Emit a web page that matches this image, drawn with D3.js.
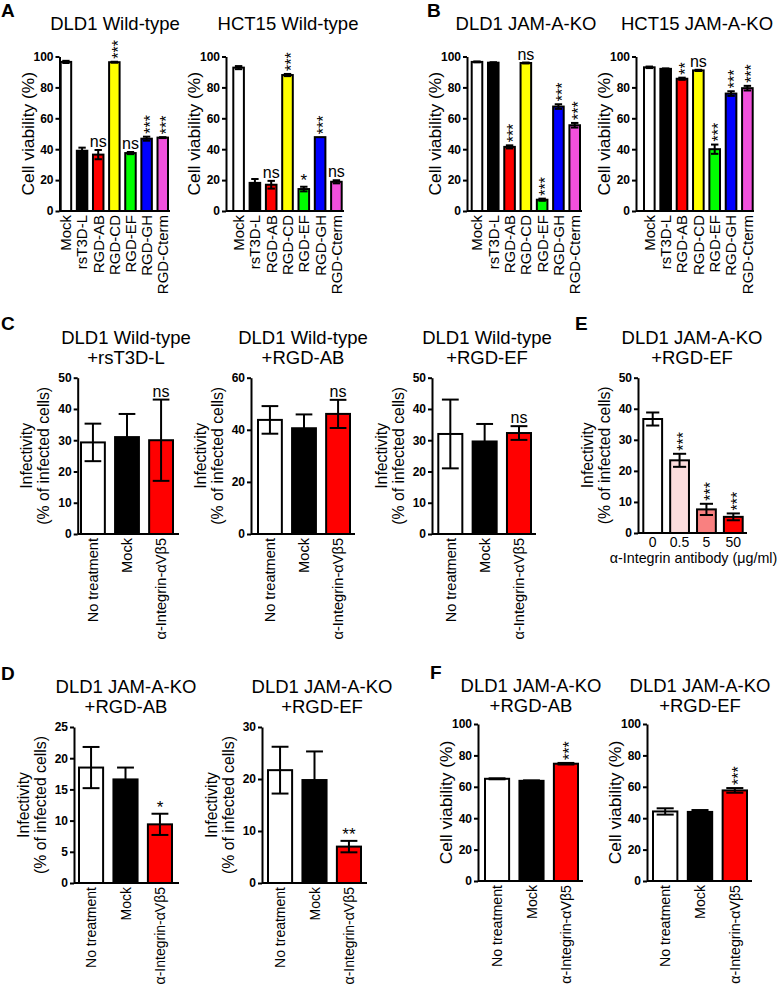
<!DOCTYPE html>
<html>
<head>
<meta charset="utf-8">
<script src="https://cdn.jsdelivr.net/npm/d3@7"></script>
<style>
  html, body { margin: 0; padding: 0; background: #fff; }
  svg { display: block; font-family: "Liberation Sans", Arial, sans-serif; }
  .sig { opacity: 0.999; }
</style>
</head>
<body>
<svg id="fig" width="777" height="988"></svg>
<script>
// ---------------- DATA ----------------
const viabilityCats = ["Mock", "rsT3D-L", "RGD-AB", "RGD-CD", "RGD-EF", "RGD-GH", "RGD-Cterm"];
const viabilityColors = ["#ffffff", "#000000", "#ff0000", "#ffff00", "#00ff00", "#0000ff", "#f250dc"];

const dld1WtValues = [96.5, 39, 36.5, 96.3, 37.5, 46.8, 47.5];
const dld1WtErrors = [0.7, 2, 3, 0.3, 0.7, 1.3, 0.3];
const dld1WtSig = ["", "", "ns", "***", "ns", "***", "***"];

const hct15WtValues = [92.8, 18.2, 17, 88, 14.2, 47.8, 18.9];
const hct15WtErrors = [1, 2.5, 2.5, 0.7, 1.5, 0, 1];
const hct15WtSig = ["", "", "ns", "***", "*", "***", "ns"];

const dld1KoValues = [96.5, 96, 41.5, 95.8, 7.3, 67.6, 55.5];
const dld1KoErrors = [0.3, 0.3, 1, 0.3, 0.7, 1.5, 1.5];
const dld1KoSig = ["", "", "***", "ns", "***", "***", "***"];

const hct15KoValues = [93, 92, 85.6, 91, 40, 76, 79.5];
const hct15KoErrors = [0.5, 0.3, 0.7, 0.4, 3, 1.5, 1.5];
const hct15KoSig = ["", "", "**", "ns", "***", "***", "***"];

const treatCats = ["No treatment", "Mock", "α-Integrin-αVβ5"];
const treatColors = ["#ffffff", "#000000", "#ff0000"];

const cT3dValues = [29.3, 31, 30];
const cT3dErrors = [6, 7.4, 13];
const cT3dSig = ["", "", "ns"];

const cAbValues = [43.8, 40.6, 46.1];
const cAbErrors = [5.3, 5.3, 5.4];
const cAbSig = ["", "", "ns"];

const cEfValues = [32, 29.6, 32.3];
const cEfErrors = [11, 5.6, 2.2];
const cEfSig = ["", "", "ns"];

const dAbValues = [18.5, 16.6, 9.4];
const dAbErrors = [3.3, 1.9, 1.7];
const dAbSig = ["", "", "*"];

const dEfValues = [21.7, 19.8, 7.0];
const dEfErrors = [4.5, 5.5, 1.1];
const dEfSig = ["", "", "**"];

const doseCats = ["0", "0.5", "5", "50"];
const doseColors = ["#ffffff", "#fcdcdc", "#f98080", "#ff0000"];
const doseValues = [36.7, 23.4, 7.6, 5.2];
const doseErrors = [2.1, 2.1, 1.8, 1.1];
const doseSig = ["", "***", "***", "***"];

const fAbValues = [65.1, 63.8, 74.7];
const fAbErrors = [0.3, 0.3, 0.5];
const fAbSig = ["", "", "***"];

const fEfValues = [44.3, 44, 57.7];
const fEfErrors = [2, 1.2, 1.5];
const fEfSig = ["", "", "***"];

const ticksViab = [0, 20, 40, 60, 80, 100];
const ticks50 = [0, 10, 20, 30, 40, 50];
const ticks60 = [0, 20, 40, 60];
const ticks25 = [0, 5, 10, 15, 20, 25];
const ticks30 = [0, 10, 20, 30];

const viabLabel = ["Cell viability (%)"];
const infLabel = ["Infectivity", "(% of infected cells)"];
const doseAxisLabel = "α-Integrin antibody (μg/ml)";

// ---------------- LAYOUT ----------------
const panels = [
  {cats: viabilityCats, colors: viabilityColors, values: dld1WtValues, errors: dld1WtErrors, sig: dld1WtSig,
   ticks: ticksViab, title: ["DLD1 Wild-type"], ylab: viabLabel,
   ax: 59.5, ae: 170, r0: 60.7, r1: 168, pi: 0.35, yTop: 56.5, y0: 211, tx: 115, ty: 30, rot: true, xfs: 15},
  {cats: viabilityCats, colors: viabilityColors, values: hct15WtValues, errors: hct15WtErrors, sig: hct15WtSig,
   ticks: ticksViab, title: ["HCT15 Wild-type"], ylab: viabLabel,
   ax: 226, ae: 344, r0: 233.3, r1: 341.7, pi: 0.35, yTop: 56.5, y0: 211, tx: 288, ty: 30, rot: true, xfs: 15},
  {cats: viabilityCats, colors: viabilityColors, values: dld1KoValues, errors: dld1KoErrors, sig: dld1KoSig,
   ticks: ticksViab, title: ["DLD1 JAM-A-KO"], ylab: viabLabel,
   ax: 467, ae: 582, r0: 471.7, r1: 580, pi: 0.35, yTop: 56.5, y0: 211, tx: 526, ty: 30, rot: true, xfs: 15},
  {cats: viabilityCats, colors: viabilityColors, values: hct15KoValues, errors: hct15KoErrors, sig: hct15KoSig,
   ticks: ticksViab, title: ["HCT15 JAM-A-KO"], ylab: viabLabel,
   ax: 636, ae: 754, r0: 644, r1: 752.7, pi: 0.35, yTop: 56.5, y0: 211, tx: 697, ty: 30, rot: true, xfs: 15},

  {cats: treatCats, colors: treatColors, values: cT3dValues, errors: cT3dErrors, sig: cT3dSig,
   ticks: ticks50, title: ["DLD1 Wild-type", "+rsT3D-L"], ylab: infLabel,
   ax: 77.7, ae: 179, r0: 81, r1: 173, pi: 0.3, yTop: 377.7, y0: 534, tx: 126, ty: 344, rot: false, xfs: 14.6},
  {cats: treatCats, colors: treatColors, values: cAbValues, errors: cAbErrors, sig: cAbSig,
   ticks: ticks60, title: ["DLD1 Wild-type", "+RGD-AB"], ylab: infLabel,
   ax: 251, ae: 355, r0: 258, r1: 350, pi: 0.3, yTop: 377.7, y0: 534, tx: 303, ty: 344, rot: false, xfs: 14.6},
  {cats: treatCats, colors: treatColors, values: cEfValues, errors: cEfErrors, sig: cEfSig,
   ticks: ticks50, title: ["DLD1 Wild-type", "+RGD-EF"], ylab: infLabel,
   ax: 432, ae: 536, r0: 438.3, r1: 531, pi: 0.3, yTop: 377.7, y0: 534, tx: 487, ty: 344, rot: false, xfs: 14.6},

  {cats: doseCats, colors: doseColors, values: doseValues, errors: doseErrors, sig: doseSig,
   ticks: ticks50, title: ["DLD1 JAM-A-KO", "+RGD-EF"], ylab: infLabel, dose: true,
   ax: 638, ae: 747, r0: 643.3, r1: 742.7, pi: 0.3, yTop: 377.7, y0: 533, tx: 692, ty: 344, rot: true, xfs: 14},

  {cats: treatCats, colors: treatColors, values: dAbValues, errors: dAbErrors, sig: dAbSig,
   ticks: ticks25, title: ["DLD1 JAM-A-KO", "+RGD-AB"], ylab: infLabel,
   ax: 74, ae: 179, r0: 79, r1: 172, pi: 0.3, yTop: 727, y0: 883, tx: 126, ty: 693, rot: false, xfs: 14},
  {cats: treatCats, colors: treatColors, values: dEfValues, errors: dEfErrors, sig: dEfSig,
   ticks: ticks30, title: ["DLD1 JAM-A-KO", "+RGD-EF"], ylab: infLabel,
   ax: 262, ae: 367, r0: 268, r1: 361, pi: 0.3, yTop: 727, y0: 883, tx: 322, ty: 693, rot: false, xfs: 14},

  {cats: treatCats, colors: treatColors, values: fAbValues, errors: fAbErrors, sig: fAbSig,
   ticks: ticksViab, title: ["DLD1 JAM-A-KO", "+RGD-AB"], ylab: viabLabel,
   ax: 478, ae: 583, r0: 485, r1: 578, pi: 0.3, yTop: 724, y0: 881, tx: 531, ty: 692, rot: true, xfs: 14.2},
  {cats: treatCats, colors: treatColors, values: fEfValues, errors: fEfErrors, sig: fEfSig,
   ticks: ticksViab, title: ["DLD1 JAM-A-KO", "+RGD-EF"], ylab: viabLabel,
   ax: 647, ae: 752, r0: 653, r1: 747, pi: 0.3, yTop: 724, y0: 881, tx: 700, ty: 692, rot: true, xfs: 14.2}
];

const letters = [
  {t: "A", x: 1, y: 17}, {t: "B", x: 427, y: 17},
  {t: "C", x: 1, y: 330}, {t: "E", x: 575, y: 330},
  {t: "D", x: 1, y: 680}, {t: "F", x: 430, y: 679}
];

const FONT = "'Liberation Sans', Arial, sans-serif";
const svg = d3.select("#fig");
svg.append("rect").attr("width", 777).attr("height", 988).attr("fill", "#fff");

svg.selectAll("text.letter").data(letters).join("text")
  .attr("class", "letter")
  .attr("x", d => d.x).attr("y", d => d.y)
  .attr("font-size", 19).attr("font-weight", "bold")
  .text(d => d.t);

function drawPanel(p) {
  const g = svg.append("g");
  const maxV = p.ticks[p.ticks.length - 1];
  const y = d3.scaleLinear().domain([0, maxV]).range([p.y0, p.yTop]);
  const x = d3.scaleBand().domain(p.cats).range([p.r0, p.r1]).paddingInner(p.pi).paddingOuter(0);
  const bw = x.bandwidth();

  // title
  const title = g.append("text").attr("text-anchor", "middle").attr("font-size", 18.5);
  p.title.forEach((t, i) => {
    title.append("tspan").attr("x", p.tx).attr("y", p.ty + i * 19.5).text(t);
  });

  // y label
  const yc = (p.yTop + p.y0) / 2;
  if (p.ylab.length === 1) {
    g.append("text")
      .attr("transform", `translate(${p.ax - 26},${yc}) rotate(-90)`)
      .attr("text-anchor", "middle").attr("font-size", 17.4)
      .text(p.ylab[0]);
  } else {
    p.ylab.forEach((t, i) => {
      g.append("text")
        .attr("transform", `translate(${p.ax - 45.5 + i * 17},${yc}) rotate(-90)`)
        .attr("text-anchor", "middle").attr("font-size", 15.8)
        .text(t);
    });
  }

  // bars
  g.selectAll("rect.bar").data(p.values).join("rect")
    .attr("class", "bar")
    .attr("x", (d, i) => x(p.cats[i]))
    .attr("y", d => y(d))
    .attr("width", bw)
    .attr("height", d => p.y0 - y(d))
    .attr("fill", (d, i) => p.colors[i])
    .attr("stroke", "#000").attr("stroke-width", 2);

  // error bars
  const capW = bw * 0.7;
  p.values.forEach((v, i) => {
    const e = p.errors[i];
    if (e <= 0) return;
    const cx = x(p.cats[i]) + bw / 2;
    const eg = g.append("g").attr("stroke", "#000").attr("stroke-width", 2);
    eg.append("line").attr("x1", cx).attr("x2", cx).attr("y1", y(v - e)).attr("y2", y(v + e));
    eg.append("line").attr("x1", cx - capW / 2).attr("x2", cx + capW / 2).attr("y1", y(v + e)).attr("y2", y(v + e));
    eg.append("line").attr("x1", cx - capW / 2).attr("x2", cx + capW / 2).attr("y1", y(v - e)).attr("y2", y(v - e));
  });

  // significance labels
  p.sig.forEach((s, i) => {
    if (!s) return;
    const v = p.values[i], e = p.errors[i];
    const cx = x(p.cats[i]) + bw / 2;
    const top = y(v + e);
    const isStars = /^\*+$/.test(s);
    if (isStars && p.rot && s.length > 1) {
      g.append("text").attr("class", "sig")
        .attr("transform", `translate(${cx},${top - 3}) rotate(-90)`)
        .attr("text-anchor", "start").attr("font-size", 16).attr("fill", "#000")
        .attr("y", "0.58em")
        .text(s);
    } else if (isStars) {
      g.append("text").attr("class", "sig").attr("x", cx).attr("y", top - 1)
        .attr("text-anchor", "middle").attr("font-size", 17).attr("fill", "#000").text(s);
    } else {
      g.append("text").attr("class", "sig").attr("x", cx).attr("y", top - 3)
        .attr("text-anchor", "middle").attr("font-size", 16).attr("fill", "#000").text(s);
    }
  });

  // y axis
  const yAxis = g.append("g").attr("transform", `translate(${p.ax},0)`)
    .call(d3.axisLeft(y).tickValues(p.ticks).tickSize(4).tickSizeOuter(0).tickPadding(2).tickFormat(d3.format("d")));
  yAxis.select(".domain").attr("stroke-width", 2);
  yAxis.selectAll(".tick line").attr("stroke-width", 2);
  yAxis.selectAll(".tick text").attr("font-size", 12).attr("font-weight", "bold")
    .attr("font-family", FONT).attr("fill", "#000");

  // x axis
  const xAxis = g.append("g").attr("transform", `translate(0,${p.y0})`)
    .call(d3.axisBottom(x).tickSize(0).tickSizeOuter(0));
  xAxis.select(".domain").attr("d", `M${p.ax},0H${p.ae}`).attr("stroke-width", 2);
  const xt = xAxis.selectAll(".tick text").attr("font-family", FONT).attr("fill", "#000");
  if (p.dose) {
    xt.attr("font-size", p.xfs).attr("y", 4).attr("dy", "0.71em");
    g.append("text").attr("x", (p.ax + p.ae) / 2 + 1).attr("y", p.y0 + 30)
      .attr("text-anchor", "middle").attr("font-size", 14.3).text(doseAxisLabel);
  } else {
    xt.attr("font-size", p.xfs)
      .attr("transform", "rotate(-90)")
      .attr("x", -4).attr("y", 0).attr("dy", "0.36em")
      .attr("text-anchor", "end");
  }
}

panels.forEach(drawPanel);
</script>
</body>
</html>
